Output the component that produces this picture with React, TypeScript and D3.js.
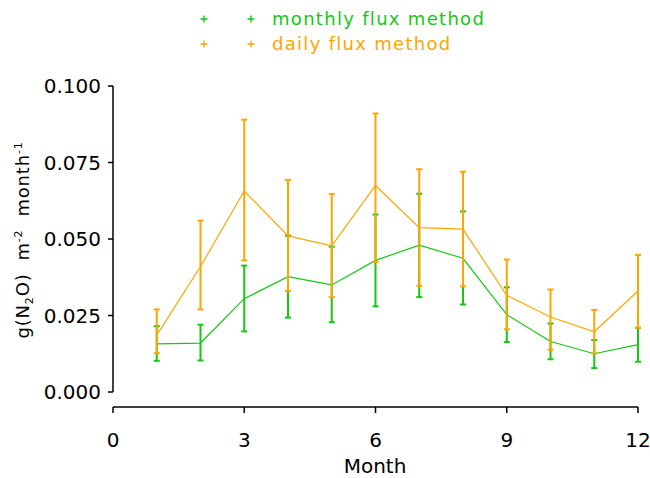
import * as d3 from "d3";

const months = [1, 2, 3, 4, 5, 6, 7, 8, 9, 10, 11, 12];

const monthlyMean = [0.0157, 0.016, 0.0305, 0.0377, 0.035, 0.043, 0.048, 0.0437, 0.0253, 0.0165, 0.0125, 0.0155];
const monthlyLow = [0.0102, 0.0103, 0.0198, 0.0243, 0.0228, 0.028, 0.031, 0.0286, 0.0163, 0.0107, 0.0078, 0.0099];
const monthlyHigh = [0.0215, 0.022, 0.0413, 0.0511, 0.0475, 0.058, 0.0648, 0.059, 0.0342, 0.0224, 0.017, 0.021];

const dailyMean = [0.0186, 0.041, 0.0657, 0.051, 0.0478, 0.0675, 0.0537, 0.0532, 0.0316, 0.0245, 0.0197, 0.033];
const dailyLow = [0.0127, 0.027, 0.043, 0.033, 0.031, 0.0425, 0.0347, 0.0345, 0.0205, 0.0138, 0.0126, 0.021];
const dailyHigh = [0.027, 0.056, 0.089, 0.0693, 0.0647, 0.091, 0.0728, 0.072, 0.0433, 0.0335, 0.0268, 0.0448];

const xTicks = [0, 3, 6, 9, 12];
const yTicks = [0, 0.025, 0.05, 0.075, 0.1];

const GREEN = "#14c814";
const ORANGE = "#ffa500";
const FONT = "'DejaVu Sans', sans-serif";

const x = d3.scaleLinear().domain([0, 12]).range([113, 638]);
const y = d3.scaleLinear().domain([0, 0.1]).range([392, 86]);

function Series({ mean, low, high, color }: { mean: number[]; low: number[]; high: number[]; color: string }) {
  const line = d3.line<number>().x((_, i) => x(months[i])).y((d) => y(d));
  const cap = 3;
  return (
    <g>
      <path d={line(mean) ?? ""} fill="none" stroke={color} strokeWidth={1.2} />
      {months.map((m, i) => (
        <g key={m} stroke={color} strokeWidth={2}>
          <line x1={x(m)} x2={x(m)} y1={y(low[i])} y2={y(high[i])} />
          <line x1={x(m) - cap} x2={x(m) + cap} y1={y(low[i])} y2={y(low[i])} />
          <line x1={x(m) - cap} x2={x(m) + cap} y1={y(high[i])} y2={y(high[i])} />
        </g>
      ))}
    </g>
  );
}

export default function App() {
  return (
    <svg width={650} height={478} style={{ position: "absolute", left: 0, top: 0 }} fontFamily={FONT}>
      <rect width={650} height={478} fill="white" />

      {/* legend */}
      {[
        { label: "monthly flux method", color: GREEN, yy: 19 },
        { label: "daily flux method", color: ORANGE, yy: 44 },
      ].map((d) => (
        <g key={d.label} fill={d.color} stroke={d.color}>
          <path d={`M200.5,${d.yy}h7M204,${d.yy - 3.5}v7`} strokeWidth={1.4} fill="none" />
          <path d={`M247.5,${d.yy}h7M251,${d.yy - 3.5}v7`} strokeWidth={1.4} fill="none" />
          <text x={272} y={d.yy + 6} fontSize={18} stroke="none" letterSpacing={1.3}>
            {d.label}
          </text>
        </g>
      ))}

      {/* y axis */}
      <g stroke="#000" strokeWidth={1.5}>
        <line x1={113} x2={113} y1={y(0)} y2={y(0.1)} />
        {yTicks.map((t) => (
          <line key={t} x1={108} x2={113} y1={y(t)} y2={y(t)} />
        ))}
      </g>
      {yTicks.map((t) => (
        <text key={t} x={101} y={y(t) + 7} textAnchor="end" fontSize={20}>
          {d3.format(".3f")(t)}
        </text>
      ))}
      <text
        transform="translate(29,240) rotate(-90)"
        textAnchor="middle"
        fontSize={18}
        letterSpacing={0.8}
        style={{ whiteSpace: "pre" }}
      >
        g(N<tspan fontSize={11} dy={4}>2</tspan>
        <tspan dy={-4}>{"O)  m"}</tspan>
        <tspan fontSize={11} dy={-7}>-2</tspan>
        <tspan dy={7}>{"  month"}</tspan>
        <tspan fontSize={11} dy={-7}>-1</tspan>
      </text>

      {/* x axis */}
      <g stroke="#000" strokeWidth={1.5}>
        <line x1={x(0)} x2={x(12)} y1={407} y2={407} />
        {xTicks.map((t) => (
          <line key={t} x1={x(t)} x2={x(t)} y1={407} y2={413} />
        ))}
      </g>
      {xTicks.map((t) => (
        <text key={t} x={x(t)} y={447} textAnchor="middle" fontSize={20}>
          {t}
        </text>
      ))}
      <text x={375} y={473} textAnchor="middle" fontSize={20}>
        Month
      </text>

      <Series mean={monthlyMean} low={monthlyLow} high={monthlyHigh} color={GREEN} />
      <Series mean={dailyMean} low={dailyLow} high={dailyHigh} color={ORANGE} />
    </svg>
  );
}
